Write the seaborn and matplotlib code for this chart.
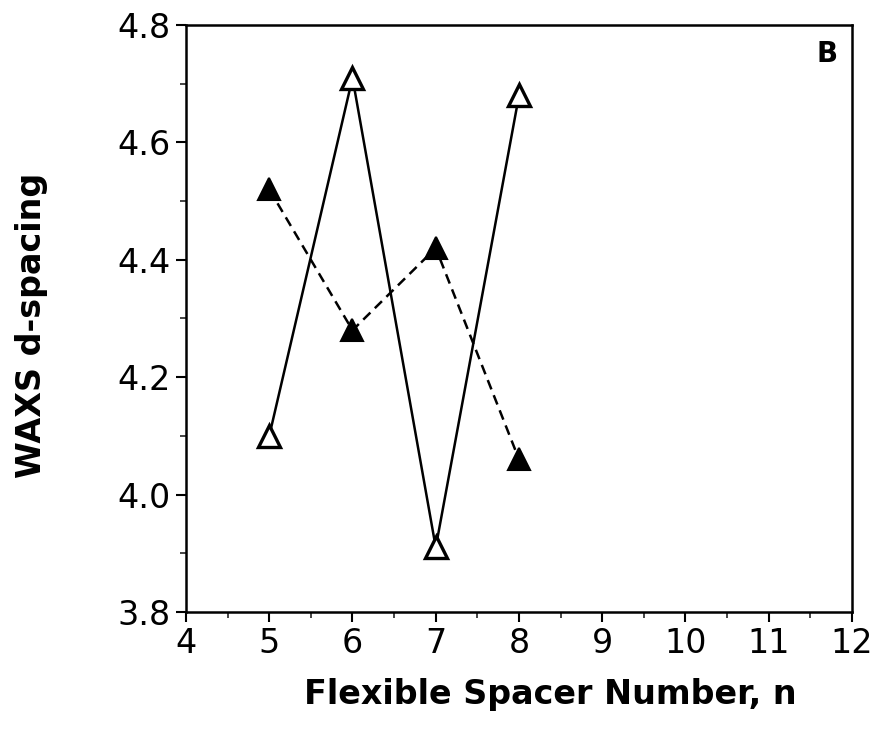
import matplotlib
matplotlib.use("Agg")
import matplotlib.pyplot as plt
import seaborn as sns
import pandas as pd
from matplotlib.ticker import MultipleLocator, FormatStrFormatter

spacer_n = [5, 6, 7, 8]
open_series = [4.10, 4.71, 3.91, 4.68]
filled_series = [4.52, 4.28, 4.42, 4.06]

sns.set_theme(style="ticks")
plt.rcParams['font.family'] = ['DejaVu Sans']
plt.rcParams['text.color'] = 'black'
plt.rcParams['axes.labelcolor'] = 'black'

df_open = pd.DataFrame({"n": spacer_n, "d": open_series})
df_filled = pd.DataFrame({"n": spacer_n, "d": filled_series})

fig = plt.figure(figsize=(8.78, 7.44), dpi=100)
ax = fig.add_axes([186/878, 1 - 612/744, (852-186)/878, (612-25)/744])

sns.lineplot(data=df_open, x="n", y="d", ax=ax, color="black", lw=1.8,
             marker="^", markersize=16, markerfacecolor="white",
             markeredgecolor="black", markeredgewidth=2.4)
sns.lineplot(data=df_filled, x="n", y="d", ax=ax, color="black", lw=1.8,
             linestyle=(0, (4, 2.5)), marker="^", markersize=16,
             markerfacecolor="black", markeredgecolor="black",
             markeredgewidth=1.5)

ax.set_xlim(4, 12)
ax.set_ylim(3.8, 4.8)
ax.xaxis.set_major_locator(MultipleLocator(1))
ax.xaxis.set_minor_locator(MultipleLocator(0.5))
ax.yaxis.set_major_locator(MultipleLocator(0.2))
ax.yaxis.set_minor_locator(MultipleLocator(0.1))
ax.yaxis.set_major_formatter(FormatStrFormatter('%.1f'))

for s in ax.spines.values():
    s.set_linewidth(1.8)
    s.set_color("black")
ax.tick_params(which="major", direction="out", length=7, width=1.5,
               labelsize=24, colors="black", pad=4)
ax.tick_params(which="minor", direction="out", length=4, width=1.2)

ax.set_xlabel("Flexible Spacer Number, n", fontsize=24, fontweight="bold")
ax.set_ylabel("WAXS d-spacing", fontsize=24, fontweight="bold")
ax.xaxis.set_label_coords(0.547, -0.112)
ax.yaxis.set_label_coords(-0.207, 0.489)

# panel letter
ax.text(0.962, 0.951, "B", transform=ax.transAxes, fontsize=20,
        fontweight="semibold", ha="center", va="center")

fig.savefig("out.png", dpi=100)
